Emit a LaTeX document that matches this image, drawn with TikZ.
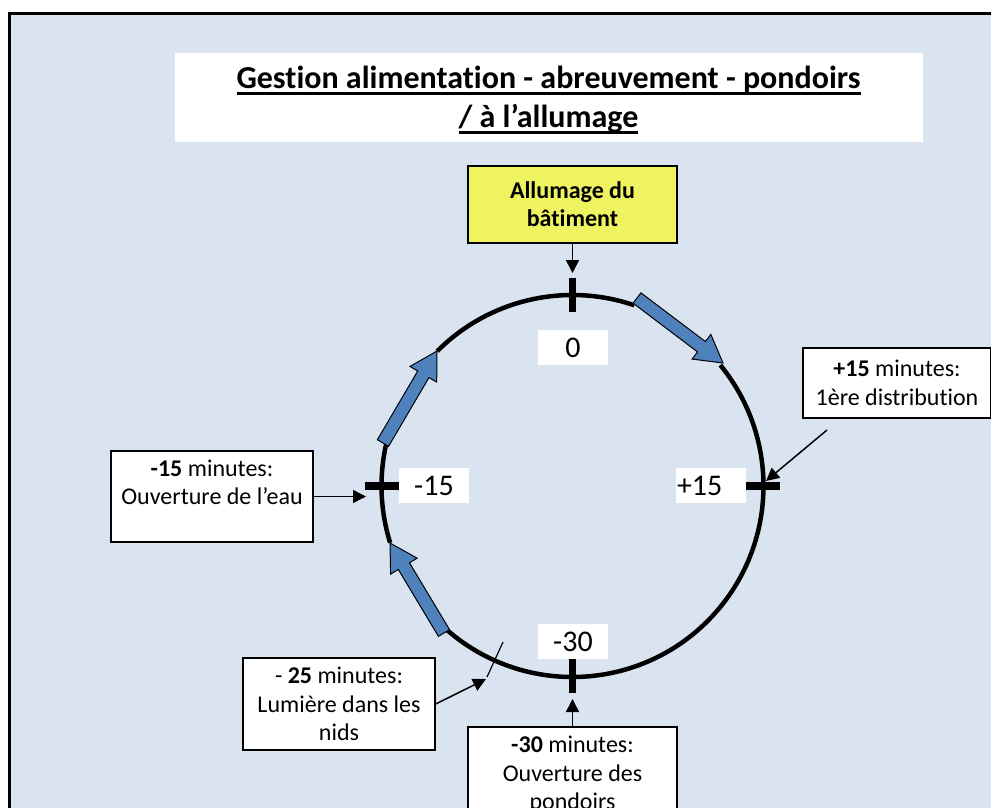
\documentclass[tikz,border=0pt]{standalone}
\usepackage{fontspec}
\setmainfont{Carlito}[Ligatures={NoCommon}]
\usetikzlibrary{calc,arrows.meta}
\definecolor{bgblue}{HTML}{DAE4F1}
\definecolor{boxyellow}{HTML}{EFF35F}
\definecolor{arrowblue}{HTML}{4F81BD}
\newcommand{\titleul}[1]{\setbox0=\hbox{#1}\rlap{\rule[-6.5pt]{\wd0}{2.5pt}}\box0}
\newcommand{\blockarrow}[2]{%
  \path ($(#2)!27pt!(#1)$) coordinate (hb);
  \draw[blockarr] ($(#1)!6.5pt!90:(#2)$) -- ($(hb)!6.5pt!-90:(#1)$) -- ($(hb)!15.5pt!-90:(#1)$) -- (#2)
     -- ($(hb)!15.5pt!90:(#1)$) -- ($(hb)!6.5pt!90:(#1)$) -- ($(#1)!6.5pt!-90:(#2)$) -- cycle;}
\tikzset{
  infobox/.style={draw=black, fill=white, line width=1.5pt, align=center, inner sep=0pt,
    font=\fontsize{24}{28.5}\selectfont},
  numbox/.style={fill=white, inner sep=0pt, minimum width=70pt, minimum height=35pt,
    font=\fontsize{30}{36}\selectfont},
  conn/.style={line width=1.5pt, -{Triangle[length=13pt,width=13pt]}},
  thinline/.style={line width=1.2pt},
  tickmark/.style={line width=7.5pt},
  ring/.style={line width=4.5pt},
  blockarr/.style={fill=arrowblue, draw=black, line width=1pt, line join=miter},
}
\begin{document}
\begin{tikzpicture}[x=1pt,y=-1pt]
\useasboundingbox (0,0) rectangle (991,807);
\clip (0,0) rectangle (991,807);
\fill[white] (0,0) rectangle (991,807);
\draw[fill=bgblue, line width=3pt] (9.5,13.5) rectangle (1010,830);

% title
\node[fill=white, minimum width=748pt, minimum height=89pt, inner sep=0pt] (titlebox) at (549,97.5) {};
\node[font=\bfseries\fontsize{32}{39}\selectfont, align=center, inner sep=0pt] (title) at (548.5,100)
  {\titleul{Gestion alimentation - abreuvement - pondoirs}\\\titleul{/ à l’allumage}};

% start box
\node[infobox, fill=boxyellow, font=\bfseries\fontsize{24}{28}\selectfont,
  minimum width=209pt, minimum height=77pt] (start) at (572.5,204.5) {Allumage du\\bâtiment};

% ring (arcs between the blue arrows)
\coordinate (ctr) at (572.5,486);
\draw[ring] ($(ctr)+(-71.1:191)$) arc[start angle=-71.1, end angle=-135.1, radius=191];
\draw[ring] ($(ctr)+(-167.2:191)$) arc[start angle=-167.2, end angle=-197.3, radius=191];
\draw[ring] ($(ctr)+(-228.8:191)$) arc[start angle=-228.8, end angle=-399.3, radius=191];

% blue block arrows
\coordinate (a1t) at (637,298);  \coordinate (a1h) at (723,363);
\coordinate (a2t) at (383,443);  \coordinate (a2h) at (437,351);
\coordinate (a3t) at (444,633);  \coordinate (a3h) at (390,543);
\blockarrow{a1t}{a1h}
\blockarrow{a2t}{a2h}
\blockarrow{a3t}{a3h}

% tick marks
\coordinate (k0a) at (572.5,278); \coordinate (k0b) at (572.5,312);
\coordinate (kla) at (365,486);   \coordinate (klb) at (399,486);
\coordinate (kra) at (746,486);   \coordinate (krb) at (780,486);
\coordinate (kba) at (572.5,659); \coordinate (kbb) at (572.5,693);
\draw[tickmark] (k0a) -- (k0b);
\draw[tickmark] (kla) -- (klb);
\draw[tickmark] (kra) -- (krb);
\draw[tickmark] (kba) -- (kbb);

% number labels
\node[numbox] (n0) at (573,347.5) {0};
\node[numbox] (nm15) at (434,485.5) {-15};
\node[numbox, text width=68pt, align=left] (np15) at (711,485.5) {+15};
\node[numbox] (nm30) at (573,641.5) {-30};

% info boxes
\node[infobox, minimum width=202pt, minimum height=91pt] (bm15) at (212,496.5)
  {\textbf{-15} minutes:\\Ouverture de l’eau\\\mbox{}};
\node[infobox, minimum width=188pt, minimum height=70pt] (bp15) at (897,383)
  {\textbf{+15} minutes:\\1ère distribution};
\node[infobox, minimum width=192pt, minimum height=92pt] (bm25) at (339,704)
  {- \textbf{25} minutes:\\Lumière dans les\\nids};
\node[infobox, minimum width=209pt, minimum height=96pt] (bm30) at (572.5,775)
  {\textbf{-30} minutes:\\Ouverture des\\pondoirs};

% connectors
\coordinate (c0tip) at (572.5,273);
\coordinate (c15tip) at (366,496.5);
\coordinate (cp15from) at (827,430);
\coordinate (cp15tip) at (766,481);
\coordinate (c25tip) at (486,679);
\coordinate (c25a) at (503,642);
\coordinate (c25b) at (487,677);
\coordinate (c30tip) at (572.5,699);
\draw[conn] (start.south) -- (c0tip);
\draw[conn] (bm15.east) -- (c15tip);
\draw[conn] (cp15from) -- (cp15tip);
\draw[conn] (bm25.east) -- (c25tip);
\draw[thinline] (c25a) -- (c25b);
\draw[conn] (bm30.north) -- (c30tip);
\end{tikzpicture}
\end{document}
